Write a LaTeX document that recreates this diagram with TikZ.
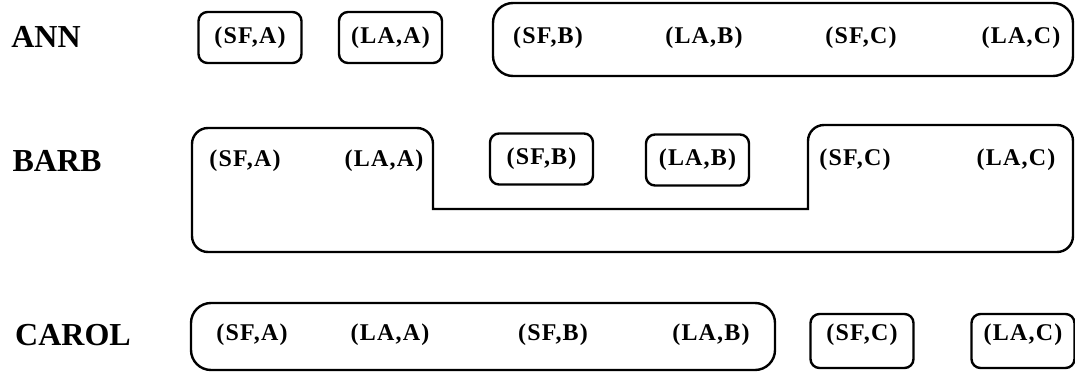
\documentclass[tikz,border=0pt]{standalone}
\usepackage{fontspec}
\setmainfont{Liberation Serif}
\newfontfamily\pairfont[LetterSpace=5]{Liberation Serif}
\tikzset{
  person/.style={font=\fontsize{32}{36}\selectfont\bfseries, inner sep=0pt},
  pair/.style={font=\pairfont\fontsize{24}{28}\selectfont\bfseries, inner sep=0pt},
  pairbox/.style={pair, draw, line width=2.4pt, rounded corners=9pt, minimum width=103pt, minimum height=51pt},
  group/.style={line width=2.4pt, rounded corners=16pt}
}

\begin{document}
\begin{tikzpicture}[x=1pt, y=-1pt]
  \useasboundingbox (0,0) rectangle (1075,372);
  % ANN
  \node[person] (ann) at (46,37) {ANN};
  \node[pairbox] (ann-sfa) at (250,37.5) {(SF,A)};
  \node[pairbox] (ann-laa) at (390.5,37.5) {(LA,A)};
  \node[pair] (ann-sfb) at (548,38) {(SF,B)};
  \node[pair] (ann-lab) at (704,38) {(LA,B)};
  \node[pair] (ann-sfc) at (861,38) {(SF,C)};
  \node[pair] (ann-lac) at (1021,38) {(LA,C)};
  \draw[group, rounded corners=20pt] (493,3) rectangle (1073,76);
  % BARB
  \node[person] (barb) at (57,161) {BARB};
  \node[pair] (barb-sfa) at (245,161) {(SF,A)};
  \node[pair] (barb-laa) at (384,161) {(LA,A)};
  \node[pairbox] (barb-sfb) at (541.5,159) {(SF,B)};
  \node[pairbox] (barb-lab) at (697.5,160) {(LA,B)};
  \node[pair] (barb-sfc) at (855,160) {(SF,C)};
  \node[pair] (barb-lac) at (1016,160) {(LA,C)};
  \draw[group] (192,190) |- (433,128) [sharp corners] -- (433,209) -- (808,209)
    [rounded corners=16pt] |- (1073,125) |- (192,252) -- cycle;
  % CAROL
  \node[person] (carol) at (73,335) {CAROL};
  \node[pair] (carol-sfa) at (252,335) {(SF,A)};
  \node[pair] (carol-laa) at (390,335) {(LA,A)};
  \node[pair] (carol-sfb) at (553,335) {(SF,B)};
  \node[pair] (carol-lab) at (711,335) {(LA,B)};
  \node[pairbox, minimum height=54pt, text depth=17pt] (carol-sfc) at (862,341) {(SF,C)};
  \node[pairbox, minimum height=54pt, text depth=17pt] (carol-lac) at (1023,341) {(LA,C)};
  \draw[group, rounded corners=20pt] (191,303) rectangle (775,370);
\end{tikzpicture}
\end{document}
